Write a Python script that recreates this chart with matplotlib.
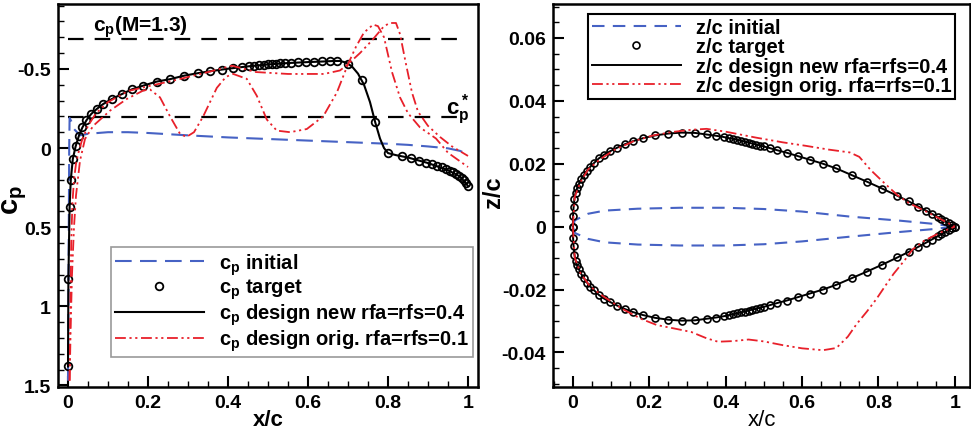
import numpy as np
import matplotlib
matplotlib.use("Agg")
import matplotlib.pyplot as plt
from matplotlib.ticker import MultipleLocator, FuncFormatter

plt.rcParams.update({
    "font.family": ["Liberation Sans", "DejaVu Sans"],
    "font.weight": "bold",
    "mathtext.fontset": "custom",
    "mathtext.rm": "Liberation Sans:bold",
    "mathtext.it": "Liberation Sans:bold",
    "mathtext.bf": "Liberation Sans:bold",
})

# ── left panel: pressure coefficient ─────────────────────────
cp_lines = {"M=1.3": -0.69, "star": -0.196}

x_init = [0.0, 0.001, 0.002, 0.003, 0.004, 0.008, 0.015, 0.03, 0.05, 0.1, 0.15, 0.2,
          0.3, 0.4, 0.5, 0.6, 0.7, 0.8, 0.85, 0.9, 0.95, 0.98, 1.0]
cp_init = [1.47, 1.0, 0.5, 0.0, -0.19, -0.17, -0.12, -0.08, -0.09, -0.1, -0.1, -0.095,
           -0.08, -0.067, -0.057, -0.047, -0.037, -0.027, -0.02, -0.01, 0.002, 0.018, 0.04]

x_target = [0.0, 0.001, 0.004, 0.007, 0.012, 0.019, 0.027, 0.036, 0.046, 0.058,
            0.072, 0.088, 0.11, 0.134, 0.159, 0.188, 0.222, 0.255, 0.29, 0.325,
            0.355, 0.385, 0.413, 0.435, 0.452, 0.466, 0.478, 0.489, 0.499, 0.509,
            0.519, 0.53, 0.543, 0.558, 0.575, 0.595, 0.615, 0.635, 0.655, 0.672,
            0.70, 0.734, 0.768, 0.80, 0.834, 0.858, 0.878, 0.895, 0.91, 0.923,
            0.935, 0.945, 0.955, 0.963, 0.971, 0.978, 0.985, 0.991, 0.996, 1.0]
cp_target = [1.38, 0.83, 0.37, 0.2, 0.07, -0.01, -0.075, -0.13, -0.175, -0.215,
             -0.247, -0.278, -0.31, -0.34, -0.37, -0.394, -0.42, -0.435, -0.457, -0.473,
             -0.485, -0.496, -0.505, -0.512, -0.517, -0.521, -0.524, -0.527, -0.529, -0.531,
             -0.533, -0.535, -0.537, -0.539, -0.541, -0.543, -0.545, -0.547, -0.549, -0.55,
             -0.53, -0.43, -0.163, 0.032, 0.052, 0.066, 0.08, 0.092, 0.103, 0.113,
             0.123, 0.132, 0.143, 0.153, 0.165, 0.177, 0.19, 0.205, 0.222, 0.24]

x_new = [0.0, 0.001, 0.004, 0.007, 0.012, 0.019, 0.027, 0.036, 0.046, 0.058,
         0.072, 0.088, 0.11, 0.134, 0.159, 0.188, 0.222, 0.255, 0.29, 0.325,
         0.36, 0.4, 0.45, 0.5, 0.55, 0.6, 0.64, 0.665, 0.68, 0.695,
         0.71, 0.725, 0.74, 0.755, 0.768, 0.78, 0.79, 0.80, 0.82, 0.85,
         0.9, 0.95, 0.98, 1.0]
cp_new = [1.38, 0.83, 0.37, 0.2, 0.07, -0.01, -0.075, -0.13, -0.175, -0.215,
          -0.247, -0.278, -0.31, -0.34, -0.37, -0.394, -0.42, -0.435, -0.457, -0.473,
          -0.487, -0.501, -0.516, -0.528, -0.537, -0.543, -0.547, -0.55, -0.55, -0.54,
          -0.515, -0.47, -0.4, -0.29, -0.163, -0.06, 0.0, 0.032, 0.045, 0.06,
          0.095, 0.14, 0.18, 0.24]

# original design: upper and lower surface
x_orig_up = [0.004, 0.006, 0.008, 0.011, 0.015, 0.02, 0.025, 0.035, 0.05, 0.07,
             0.1, 0.15, 0.2, 0.27, 0.35, 0.41, 0.47, 0.55, 0.64, 0.68,
             0.70, 0.73, 0.76, 0.79, 0.805, 0.82, 0.83, 0.845, 0.86, 0.875,
             0.9, 0.93, 0.96, 1.0]
cp_orig_up = [1.47, 1.0, 0.6, 0.35, 0.2, 0.1, 0.04, -0.05, -0.14, -0.22,
              -0.29, -0.36, -0.39, -0.43, -0.48, -0.52, -0.48, -0.468, -0.468, -0.49,
              -0.53, -0.6, -0.68, -0.77, -0.79, -0.79, -0.72, -0.53, -0.35, -0.23,
              -0.14, -0.07, -0.01, 0.05]
x_orig_lo = [0.004, 0.007, 0.01, 0.015, 0.02, 0.03, 0.0425, 0.063, 0.105, 0.147,
             0.188, 0.205, 0.23, 0.255, 0.28, 0.296, 0.315, 0.338, 0.372, 0.395,
             0.413, 0.447, 0.472, 0.497, 0.522, 0.555, 0.597, 0.638, 0.672, 0.70,
             0.72, 0.74, 0.763, 0.775, 0.79, 0.81, 0.83, 0.85, 0.88, 0.92,
             0.95, 1.0]
cp_orig_lo = [1.47, 1.1, 0.8, 0.5, 0.3, 0.08, -0.057, -0.14, -0.236, -0.31,
              -0.363, -0.37, -0.32, -0.2, -0.09, -0.07, -0.1, -0.2, -0.38, -0.45,
              -0.468, -0.437, -0.33, -0.18, -0.11, -0.1, -0.12, -0.2, -0.35, -0.53,
              -0.64, -0.73, -0.78, -0.77, -0.7, -0.48, -0.32, -0.22, -0.13, -0.06,
              0.03, 0.12]

# ── right panel: airfoil shapes ──────────────────────────────
x_shape_init = [0.0, 0.005, 0.04, 0.084, 0.17, 0.28, 0.4, 0.5, 0.6, 0.725, 0.856, 0.943, 1.0]
z_init_up = [0.0, 0.002, 0.0041, 0.0051, 0.0057, 0.006, 0.006, 0.0056, 0.0048, 0.0032, 0.0019, 0.0009, 0.0]
z_init_lo = [0.0, -0.002, -0.0039, -0.005, -0.0057, -0.006, -0.006, -0.0056, -0.0047, -0.0032, -0.0017, -0.0008, 0.0]

x_shape_tgt = [0.0, 0.0005, 0.002, 0.004, 0.007, 0.011, 0.016, 0.022, 0.029, 0.037,
               0.046, 0.056, 0.068, 0.082, 0.098, 0.116, 0.136, 0.158, 0.183, 0.215,
               0.25, 0.285, 0.32, 0.35, 0.375, 0.395, 0.41, 0.42, 0.43, 0.44,
               0.45, 0.46, 0.47, 0.48, 0.49, 0.5, 0.515, 0.535, 0.56, 0.59,
               0.62, 0.655, 0.69, 0.73, 0.77, 0.81, 0.85, 0.88, 0.905, 0.925,
               0.94, 0.955, 0.965, 0.975, 0.985, 0.993, 1.0]
z_tgt_up = [0.0, 0.0035, 0.0063, 0.0089, 0.0108, 0.0122, 0.0136, 0.0151, 0.0164, 0.0178,
            0.0191, 0.0203, 0.0217, 0.0229, 0.024, 0.0251, 0.0262, 0.0272, 0.0281, 0.029,
            0.0296, 0.0299, 0.0298, 0.0293, 0.0289, 0.0285, 0.0281, 0.0279, 0.0276, 0.0273,
            0.027, 0.0267, 0.0264, 0.0261, 0.0258, 0.0255, 0.025, 0.0243, 0.0235, 0.0224,
            0.0213, 0.02, 0.0185, 0.0164, 0.0143, 0.0121, 0.0098, 0.008, 0.0064, 0.0051,
            0.0041, 0.0031, 0.0024, 0.0017, 0.001, 0.0005, 0.0]
z_tgt_lo = [0.0, -0.0035, -0.0063, -0.0089, -0.0108, -0.0122, -0.0136, -0.0151, -0.0164, -0.0178,
            -0.0191, -0.0203, -0.0217, -0.0229, -0.024, -0.0251, -0.0262, -0.0272, -0.0281, -0.029,
            -0.0296, -0.0299, -0.0298, -0.0293, -0.0289, -0.0285, -0.0281, -0.0279, -0.0276, -0.0273,
            -0.027, -0.0267, -0.0264, -0.0261, -0.0258, -0.0255, -0.025, -0.0243, -0.0235, -0.0224,
            -0.0213, -0.02, -0.0185, -0.0164, -0.0143, -0.0121, -0.0098, -0.008, -0.0064, -0.0051,
            -0.0041, -0.0031, -0.0024, -0.0017, -0.001, -0.0005, 0.0]

x_orig_z_up = [0.0, 0.005, 0.02, 0.04, 0.07, 0.11, 0.16, 0.21, 0.26, 0.31,
               0.35, 0.4, 0.48, 0.55, 0.61, 0.67, 0.725, 0.75, 0.78, 0.81,
               0.85, 0.88, 0.9, 0.93, 0.96, 1.0]
z_orig_up = [0.0, 0.0095, 0.0142, 0.0182, 0.0213, 0.0245, 0.0272, 0.029, 0.0301, 0.0308,
             0.0311, 0.0302, 0.0283, 0.0268, 0.0257, 0.0245, 0.0236, 0.0222, 0.018, 0.0145,
             0.01, 0.0075, 0.0063, 0.0045, 0.0026, 0.0]
x_orig_z_lo = [0.0, 0.005, 0.02, 0.045, 0.08, 0.13, 0.18, 0.22, 0.27, 0.31,
               0.35, 0.38, 0.42, 0.46, 0.5, 0.55, 0.6, 0.655, 0.69, 0.72,
               0.743, 0.77, 0.795, 0.82, 0.84, 0.87, 0.89, 0.92, 0.96, 1.0]
z_orig_lo = [0.0, -0.0099, -0.0148, -0.019, -0.0222, -0.0262, -0.0294, -0.0313, -0.0325, -0.0335,
             -0.0355, -0.0366, -0.0364, -0.0359, -0.0365, -0.0377, -0.0387, -0.0393, -0.0386, -0.035,
             -0.031, -0.027, -0.023, -0.0185, -0.015, -0.0105, -0.0072, -0.0045, -0.002, 0.0]

BLUE = "#4662c4"
RED = "#e8202a"
DASH_DOT2 = (6, 2, 1.2, 2, 1.2, 2)


def fmt(v, pos):
    if abs(v) < 1e-9:
        return "0"
    return f"{v:g}"


def style_axes(ax):
    for s in ax.spines.values():
        s.set_linewidth(1.8)
    ax.tick_params(which="both", direction="in", top=False, right=False,
                   labelsize=14, width=1.5, pad=5)
    ax.tick_params(which="major", length=8)
    ax.tick_params(which="minor", length=4, width=1.0)
    ax.xaxis.set_major_formatter(FuncFormatter(fmt))
    ax.yaxis.set_major_formatter(FuncFormatter(fmt))
    for lab in ax.get_xticklabels() + ax.get_yticklabels():
        lab.set_fontweight("bold")


def add_legend(ax, anchor, edge, lw):
    leg = ax.legend(loc="upper left", bbox_to_anchor=anchor, fontsize=14.5,
                    handlelength=4.4, handletextpad=0.75, labelspacing=0.02,
                    borderpad=0.2, borderaxespad=0, fancybox=False, framealpha=1,
                    numpoints=1)
    leg.get_frame().set_edgecolor(edge)
    leg.get_frame().set_linewidth(lw)
    return leg


fig = plt.figure(figsize=(9.71, 4.31), dpi=100)
ax1 = fig.add_axes([58 / 971, 1 - 388 / 431, 420 / 971, 383 / 431])
ax2 = fig.add_axes([553 / 971, 1 - 388 / 431, 417 / 971, 383 / 431])

# ── left ──
ax1.plot([0, 1], [cp_lines["M=1.3"]] * 2, color="black", lw=1.6, dashes=(7, 5))
ax1.plot([0, 1], [cp_lines["star"]] * 2, color="black", lw=1.6, dashes=(7, 5))
ax1.plot(x_init, cp_init, color=BLUE, lw=1.5, dashes=(8, 4), label=r"$\mathbf{c_p}$ initial")
ax1.plot(x_target, cp_target, ls="none", marker="o", ms=5.5, mfc="none", mec="black",
         mew=1.3, label=r"$\mathbf{c_p}$ target")
ax1.plot(x_new, cp_new, color="black", lw=1.5, label=r"$\mathbf{c_p}$ design new rfa=rfs=0.4")
ax1.plot(x_orig_up, cp_orig_up, color=RED, lw=1.3, dashes=DASH_DOT2,
         label=r"$\mathbf{c_p}$ design orig. rfa=rfs=0.1")
ax1.plot(x_orig_lo, cp_orig_lo, color=RED, lw=1.3, dashes=DASH_DOT2)

ax1.text(0.062, -0.77, r"$\mathbf{c_p}$(M=1.3)", fontsize=15, fontweight="bold", va="center")
ax1.text(0.945, -0.25, r"$\mathbf{c_p^*}$", fontsize=16, fontweight="bold", va="center")

ax1.set_xlim(-0.025, 1.025)
ax1.set_ylim(1.51, -0.91)
ax1.xaxis.set_major_locator(MultipleLocator(0.2))
ax1.xaxis.set_minor_locator(MultipleLocator(0.05))
ax1.yaxis.set_major_locator(MultipleLocator(0.5))
ax1.yaxis.set_minor_locator(MultipleLocator(0.1))
style_axes(ax1)
ax1.set_xlabel("x/c", fontsize=16, fontweight="bold")
ax1.xaxis.set_label_coords(0.5, -0.058)
ax1.set_ylabel(r"$\mathbf{c_p}$", fontsize=21)
ax1.yaxis.set_label_coords(-0.07, 0.49)

add_legend(ax1, (0.126, 0.3655), "#999999", 1.2)

# ── right ──
ax2.plot(x_shape_init, z_init_up, color=BLUE, lw=1.5, dashes=(6, 4), label="z/c initial")
ax2.plot(x_shape_init, z_init_lo, color=BLUE, lw=1.5, dashes=(6, 4))
ax2.plot(x_shape_tgt, z_tgt_up, ls="none", marker="o", ms=5, mfc="none", mec="black",
         mew=1.2, label="z/c target")
ax2.plot(x_shape_tgt, z_tgt_lo, ls="none", marker="o", ms=5, mfc="none", mec="black", mew=1.2)
ax2.plot(x_shape_tgt, z_tgt_up, color="black", lw=1.4, label="z/c design new rfa=rfs=0.4")
ax2.plot(x_shape_tgt, z_tgt_lo, color="black", lw=1.4)
ax2.plot(x_orig_z_up, z_orig_up, color=RED, lw=1.3, dashes=DASH_DOT2,
         label="z/c design orig. rfa=rfs=0.1")
ax2.plot(x_orig_z_lo, z_orig_lo, color=RED, lw=1.3, dashes=DASH_DOT2)

ax2.set_xlim(-0.052, 1.04)
ax2.set_ylim(-0.051, 0.0708)
ax2.xaxis.set_major_locator(MultipleLocator(0.2))
ax2.xaxis.set_minor_locator(MultipleLocator(0.05))
ax2.yaxis.set_major_locator(MultipleLocator(0.02))
ax2.yaxis.set_minor_locator(MultipleLocator(0.005))
style_axes(ax2)
ax2.set_xlabel("x/c", fontsize=16, fontweight="normal")
ax2.xaxis.set_label_coords(0.5, -0.058)
ax2.set_ylabel("z/c", fontsize=17, fontweight="bold")
ax2.yaxis.set_label_coords(-0.115, 0.51)

add_legend(ax2, (0.084, 0.974), "black", 1.5)

fig.savefig("out.png", dpi=100)
